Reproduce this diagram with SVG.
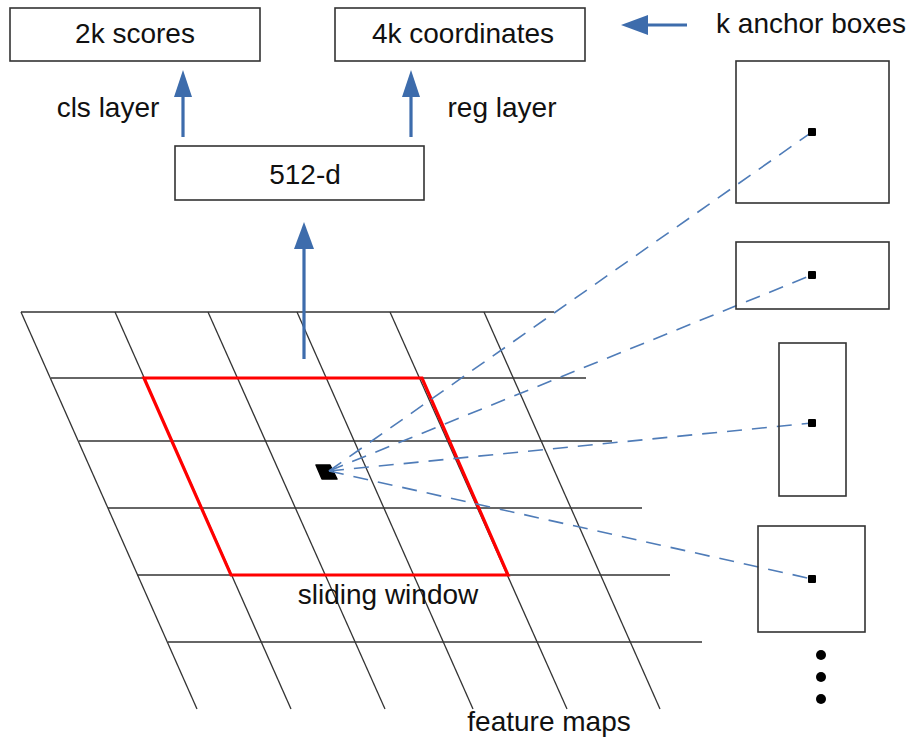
<svg xmlns="http://www.w3.org/2000/svg" width="910" height="742" viewBox="0 0 910 742">
<defs>
<style>
.box{fill:#fff;stroke:#333;stroke-width:1.6}
.abox{fill:none;stroke:#333;stroke-width:1.6}
.t{font-family:"Liberation Sans",Arial,sans-serif;font-size:28px;fill:#111}
.grid{stroke:#333;stroke-width:1.3;fill:none}
.arr{stroke:#3d6cac;stroke-width:3.2;fill:none}
.head{fill:#3d6cac}
.dash{stroke:#4f7cb8;stroke-width:1.6;stroke-dasharray:15 10;fill:none}
.pt{fill:#000}
</style>
</defs>
<rect width="910" height="742" fill="#fff"/>

<g id="feature-map-grid">
<g class="grid">
<line x1="21" y1="312" x2="554" y2="312"/>
<line x1="51" y1="378" x2="586" y2="378"/>
<line x1="79" y1="441" x2="612" y2="441"/>
<line x1="108" y1="508" x2="642" y2="508"/>
<line x1="137" y1="575" x2="670" y2="575"/>
<line x1="168" y1="642" x2="702" y2="642"/>
<line x1="21" y1="312" x2="197" y2="709"/>
<line x1="115" y1="312" x2="291" y2="709"/>
<line x1="208" y1="312" x2="385" y2="709"/>
<line x1="297" y1="312" x2="473" y2="709"/>
<line x1="390" y1="312" x2="567" y2="709"/>
<line x1="484" y1="312" x2="660" y2="709"/>
</g>
</g>

<g id="sliding-window">
<polygon points="144,378 422,378 508,575 231,575" fill="none" stroke="#ff0000" stroke-width="3.2" stroke-linejoin="miter"/>
<polygon points="316,465 330,465 337,479 322,479" fill="#000" stroke="#000" stroke-width="1.5" stroke-linejoin="round"/>
</g>

<g id="connectors">
<line class="arr" x1="304" y1="359" x2="304" y2="246"/>
<polygon class="head" points="304,222 294,249 314,249"/>
<line class="arr" x1="183" y1="137" x2="183" y2="94"/>
<polygon class="head" points="183,70 174,97 192,97"/>
<line class="arr" x1="411" y1="137" x2="411" y2="94"/>
<polygon class="head" points="411,70 402,97 420,97"/>
<line class="arr" x1="687" y1="25" x2="645" y2="25"/>
<polygon class="head" points="621,25 648,15 648,35"/>
<line class="dash" x1="329" y1="471" x2="812" y2="132"/>
<line class="dash" x1="329" y1="471" x2="812" y2="275"/>
<line class="dash" x1="329" y1="471" x2="812" y2="423"/>
<line class="dash" x1="329" y1="471" x2="812" y2="579"/>
</g>

<g id="scores">
<rect class="box" x="10" y="8" width="250" height="53"/>
<text class="t" x="135" y="43" text-anchor="middle">2k scores</text>
</g>
<g id="coordinates">
<rect class="box" x="335" y="8" width="250" height="53"/>
<text class="t" x="463" y="43" text-anchor="middle">4k coordinates</text>
</g>
<g id="feature-512d">
<rect class="box" x="175" y="146" width="249" height="54"/>
<text class="t" x="305" y="184" text-anchor="middle">512-d</text>
</g>
<g id="labels">
<text class="t" x="108" y="117" text-anchor="middle">cls layer</text>
<text class="t" x="502" y="117" text-anchor="middle">reg layer</text>
<text class="t" x="811" y="33" text-anchor="middle">k anchor boxes</text>
<text class="t" x="388" y="604" text-anchor="middle">sliding window</text>
<text class="t" x="549" y="731" text-anchor="middle">feature maps</text>
</g>

<g id="anchor-1">
<rect class="abox" x="736" y="61" width="153" height="142"/>
<rect class="pt" x="808" y="128" width="8" height="8" rx="1"/>
</g>
<g id="anchor-2">
<rect class="abox" x="736" y="242" width="153" height="67"/>
<rect class="pt" x="808" y="271" width="8" height="8" rx="1"/>
</g>
<g id="anchor-3">
<rect class="abox" x="779" y="343" width="67" height="153"/>
<rect class="pt" x="808" y="419" width="8" height="8" rx="1"/>
</g>
<g id="anchor-4">
<rect class="abox" x="758" y="526" width="107" height="106"/>
<rect class="pt" x="808" y="575" width="8" height="8" rx="1"/>
</g>
<g id="more-dots">
<circle class="pt" cx="821" cy="655" r="5"/>
<circle class="pt" cx="821" cy="677" r="5"/>
<circle class="pt" cx="821" cy="699" r="5"/>
</g>
</svg>
